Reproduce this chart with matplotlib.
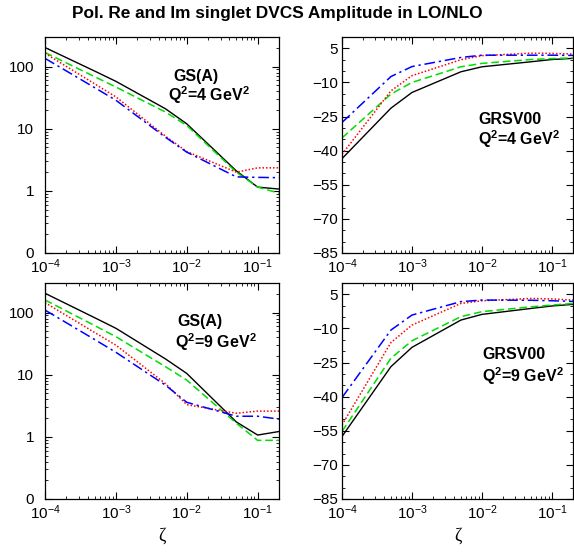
import numpy as np
import matplotlib
matplotlib.use("Agg")
import matplotlib.pyplot as plt
from matplotlib.ticker import FixedLocator, FixedFormatter, LogLocator, MultipleLocator, NullFormatter

plt.rcParams['font.family'] = ['Liberation Sans', 'DejaVu Sans']
plt.rcParams['mathtext.fontset'] = 'custom'
plt.rcParams['mathtext.rm'] = 'Liberation Sans'
plt.rcParams['mathtext.it'] = 'Liberation Sans:italic'
plt.rcParams['mathtext.bf'] = 'Liberation Sans:bold'

# zeta grid
zeta = [1e-4, 5e-4, 1e-3, 5e-3, 1e-2, 5e-2, 0.1, 0.2]

# GS(A), Q^2 = 4 GeV^2 (log scale)
gs4_black = [203, 85, 58, 21, 12, 2.1, 1.15, 1.07]
gs4_green = [169, 69, 47, 18.6, 11.3, 2.0, 1.15, 0.92]
gs4_red = [164, 53, 32.6, 7.6, 4.3, 2.0, 2.35, 2.35]
gs4_blue = [136, 46, 28.8, 7.3, 4.2, 1.68, 1.65, 1.63]

# GS(A), Q^2 = 9 GeV^2
gs9_black = [205, 83, 56, 18, 10.5, 1.74, 1.07, 1.22]
gs9_green = [160, 62, 41, 13.5, 8.2, 1.66, 0.88, 0.88]
gs9_red = [145, 48, 30, 7.2, 3.3, 2.4, 2.6, 2.6]
gs9_blue = [110, 37, 23, 6.8, 3.6, 2.15, 2.15, 1.93]

# GRSV00, Q^2 = 4 GeV^2 (linear)
gr4_black = [-43.5, -21.3, -14.4, -5.3, -3.1, -0.9, 0.1, 0.6]
gr4_green = [-34.4, -15.1, -10.0, -3.1, -1.6, 0.1, 0.5, 0.8]
gr4_red = [-41.6, -13.7, -7.0, 0.0, 1.8, 2.9, 2.8, 2.5]
gr4_blue = [-27.6, -7.4, -3.0, 1.0, 2.0, 2.0, 2.0, 1.9]

# GRSV00, Q^2 = 9 GeV^2
gr9_black = [-57.5, -26.8, -18.3, -6.3, -3.8, -1.2, -0.1, 0.6]
gr9_green = [-55.3, -23.1, -15.4, -4.8, -2.6, -0.5, 0.3, 1.0]
gr9_red = [-52.4, -16.2, -8.5, 1.0, 2.2, 3.2, 3.0, 2.5]
gr9_blue = [-40.4, -10.7, -4.1, 1.8, 2.5, 2.4, 2.2, 1.9]

log_ticks = [0.1, 1, 10, 100]
log_labels = ['0', '1', '10', '100']
lin_ticks = [-85, -70, -55, -40, -25, -10, 5]

W, H = 574, 552
fig = plt.figure(figsize=(W / 100, H / 100), dpi=100)


def box(x0, x1, y0, y1):
    return [x0 / W, 1 - y1 / H, (x1 - x0) / W, (y1 - y0) / H]


def draw_lines(ax, black, green, red, blue):
    ax.plot(zeta, black, color='black', lw=1.0)
    ax.plot(zeta, green, color='#00dd00', lw=1.1, dashes=(5, 2.5))
    ax.plot(zeta, red, color='#ff0000', lw=1.1, dashes=(1, 1.3))
    ax.plot(zeta, blue, color='#0000ff', lw=1.1, dashes=(7, 2.5, 1.5, 2.5))


def style(ax, ypad):
    ax.set_xscale('log')
    ax.set_xlim(1e-4, 0.2)
    ax.tick_params(which='both', direction='in', top=True, right=True, labelsize=11)
    ax.tick_params(which='major', length=5, width=0.8)
    ax.tick_params(which='minor', length=2.5, width=0.6)
    ax.tick_params(axis='y', pad=ypad)
    ax.tick_params(axis='x', pad=3.5)
    ax.xaxis.set_minor_locator(LogLocator(base=10, subs=np.arange(2, 10), numticks=20))
    ax.xaxis.set_minor_formatter(NullFormatter())
    for s in ax.spines.values():
        s.set_linewidth(0.9)


panels = [
    (box(45, 279, 37, 253), 'log', (gs4_black, gs4_green, gs4_red, gs4_blue), 'GS(A)', '4', (0.547, 0.796), (0.526, 0.704)),
    (box(342, 573, 37, 253), 'lin', (gr4_black, gr4_green, gr4_red, gr4_blue), 'GRSV00', '4', (0.589, 0.596), (0.589, 0.50)),
    (box(45, 279, 283, 499), 'log', (gs9_black, gs9_green, gs9_red, gs9_blue), 'GS(A)', '9', (0.564, 0.80), (0.556, 0.698)),
    (box(342, 573, 283, 499), 'lin', (gr9_black, gr9_green, gr9_red, gr9_blue), 'GRSV00', '9', (0.606, 0.647), (0.606, 0.543)),
]

for i, (rect, kind, curves, name, q2, pos1, pos2) in enumerate(panels):
    ax = fig.add_axes(rect)
    draw_lines(ax, *curves)
    if kind == 'log':
        style(ax, 8)
        ax.set_yscale('log')
        ax.set_ylim(0.1, 300)
        ax.yaxis.set_major_locator(FixedLocator(log_ticks))
        ax.yaxis.set_major_formatter(FixedFormatter(log_labels))
        ax.yaxis.set_minor_locator(LogLocator(base=10, subs=np.arange(2, 10), numticks=20))
        ax.yaxis.set_minor_formatter(NullFormatter())
    else:
        style(ax, 3)
        ax.set_ylim(-85, 10)
        ax.yaxis.set_major_locator(FixedLocator(lin_ticks))
        ax.yaxis.set_minor_locator(MultipleLocator(5))
    ax.text(pos1[0], pos1[1], name, transform=ax.transAxes, fontsize=11.5,
            fontweight='bold', va='baseline', ha='left')
    ax.text(pos2[0], pos2[1], r'Q$^\mathbf{2}$=' + q2 + r' GeV$^\mathbf{2}$', transform=ax.transAxes,
            fontsize=11.5, fontweight='bold', va='baseline', ha='left')
    if i >= 2:
        ax.set_xlabel('ζ', fontsize=13, family='Liberation Serif', labelpad=4)

fig.text(0.483, 1 - 18.3 / H, 'Pol. Re and Im singlet DVCS Amplitude in LO/NLO',
         ha='center', va='baseline', fontsize=12.4, fontweight='bold')

fig.savefig('out.png', dpi=100)
